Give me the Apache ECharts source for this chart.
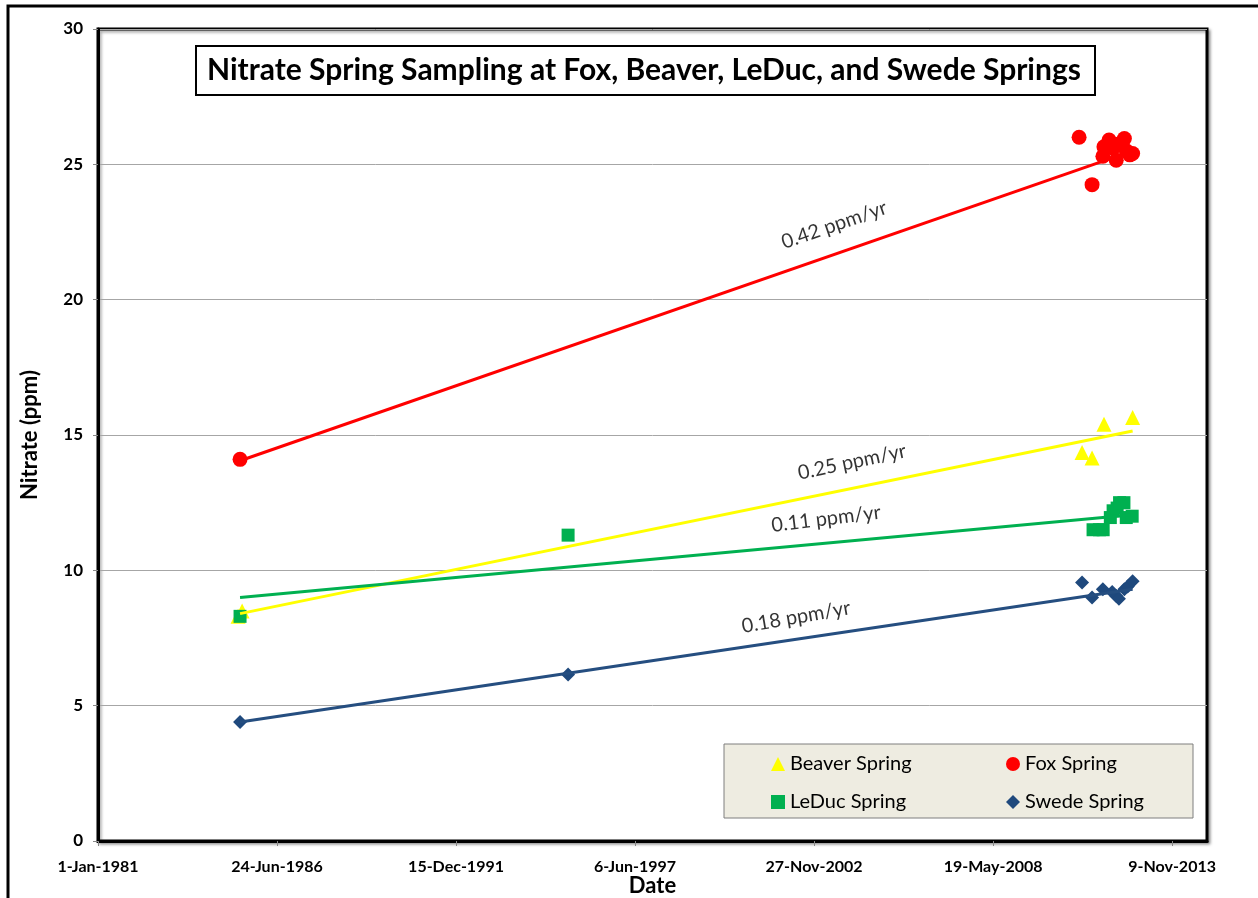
<!DOCTYPE html>
<html>
<head>
<meta charset="utf-8">
<script src="https://cdn.jsdelivr.net/npm/echarts@6/dist/echarts.min.js"></script>
<style>
  html, body { margin: 0; padding: 0; background: #fff; }
  #chart { width: 1258px; height: 898px; }
</style>
</head>
<body>
<div id="chart"></div>
<script>
// sample dates and nitrate values (ppm)
var beaverDates = ['1985-04-15', '1985-05-30', '2011-02-07', '2011-05-30', '2011-10-10', '2012-08-25'];
var beaverVals = [8.3, 8.5, 14.35, 14.15, 15.4, 15.65];

var foxDates = ['1985-05-07', '2011-01-05', '2011-05-30', '2011-09-28', '2011-10-10', '2011-12-06', '2012-01-20',
    '2012-02-24', '2012-03-25', '2012-05-25', '2012-06-15', '2012-07-25', '2012-08-25'];
var foxVals = [14.1, 26.0, 24.25, 25.3, 25.65, 25.9, 25.6, 25.15, 25.75, 25.95, 25.5, 25.35, 25.4];

var leducDates = ['1985-05-07', '1995-05-20', '2011-06-10', '2011-08-20', '2011-10-01', '2011-12-20', '2012-01-20',
    '2012-03-05', '2012-04-01', '2012-05-20', '2012-06-15', '2012-08-20'];
var leducVals = [8.3, 11.3, 11.5, 11.5, 11.5, 11.95, 12.2, 12.3, 12.5, 12.5, 11.95, 12.0];

var swedeDates = ['1985-05-07', '1995-05-20', '2011-02-07', '2011-05-30', '2011-09-28', '2012-01-10', '2012-02-24',
    '2012-03-25', '2012-05-25', '2012-07-01', '2012-08-25'];
var swedeVals = [4.4, 6.15, 9.55, 9.0, 9.3, 9.2, 9.05, 8.95, 9.3, 9.4, 9.6];

// linear trend lines (start / end)
var trendDates = ['1985-05-07', '2012-08-25'];
var foxTrend = [14.05, 25.5];
var beaverTrend = [8.4, 15.15];
var leducTrend = [9.0, 12.05];
var swedeTrend = [4.4, 9.3];

// slope annotations
var slopeTexts = ['0.42 ppm/yr', '0.25 ppm/yr', '0.11 ppm/yr', '0.18 ppm/yr'];
var slopeDates = ['2003-07-10', '2004-01-25', '2003-04-10', '2002-05-10'];
var slopeVals = [22.76, 14.0, 11.9, 8.27];
var slopeAngles = [19, 12, 7, 10];

// x axis: days since 1-Jan-1981, major unit 2000 days
var xTicks = [0, 2000, 4000, 6000, 8000, 10000, 12000];

var BASE = Date.UTC(1981, 0, 1);
var MONTHS = ['Jan', 'Feb', 'Mar', 'Apr', 'May', 'Jun', 'Jul', 'Aug', 'Sep', 'Oct', 'Nov', 'Dec'];
var FONT = 'Lato, "Liberation Sans", sans-serif';

function dayNum(s) {
    var p = s.split('-');
    return (Date.UTC(+p[0], +p[1] - 1, +p[2]) - BASE) / 86400000;
}
function fmtDate(v) {
    var d = new Date(BASE + v * 86400000);
    return d.getUTCDate() + '-' + MONTHS[d.getUTCMonth()] + '-' + d.getUTCFullYear();
}
function pairs(dates, vals) {
    return dates.map(function (d, i) { return [dayNum(d), vals[i]]; });
}

var chart = echarts.init(document.getElementById('chart'));

var option = {
    backgroundColor: '#fff',
    animation: false,
    textStyle: { fontFamily: FONT, color: '#000' },
    title: {
        text: 'Nitrate Spring Sampling at Fox, Beaver, LeDuc, and Swede Springs',
        left: 196,
        top: 46,
        padding: [9, 14, 9, 11],
        borderWidth: 2,
        borderColor: '#000',
        backgroundColor: '#fff',
        textStyle: { fontFamily: FONT, fontSize: 30, fontWeight: 'bold', color: '#000', lineHeight: 31 }
    },
    legend: [
        {
            data: ['Beaver Spring', 'LeDuc Spring'],
            orient: 'vertical',
            left: 766,
            top: 749,
            z: 10,
            itemWidth: 14,
            itemHeight: 14,
            itemGap: 18,
            textStyle: { fontFamily: FONT, fontSize: 20, color: '#000' }
        },
        {
            data: ['Fox Spring', 'Swede Spring'],
            orient: 'vertical',
            left: 1001,
            top: 749,
            z: 10,
            itemWidth: 14,
            itemHeight: 14,
            itemGap: 18,
            textStyle: { fontFamily: FONT, fontSize: 20, color: '#000' }
        }
    ],
    graphic: [
        {   // outer chart frame
            type: 'rect',
            shape: { x: 8, y: 6, width: 1400, height: 1000 },
            style: { fill: 'none', stroke: '#000', lineWidth: 3 },
            z: 0
        },
        {   // legend box
            type: 'rect',
            shape: { x: 724, y: 744, width: 469, height: 74 },
            style: { fill: '#EEECE1', stroke: '#7f7f7f', lineWidth: 1 },
            z: 1
        }
    ],
    grid: {
        left: 98,
        top: 29,
        right: 51,
        bottom: 57,
        outerBoundsMode: 'none',
        show: true,
        backgroundColor: '#fff',
        borderColor: '#000',
        borderWidth: 3,
        shadowColor: 'rgba(0,0,0,0.35)',
        shadowBlur: 3,
        shadowOffsetX: 2,
        shadowOffsetY: 2
    },
    xAxis: {
        type: 'value',
        min: 0,
        max: 12390,
        interval: 2000,
        name: 'Date',
        nameLocation: 'middle',
        nameGap: 34,
        nameMoveOverlap: false,
        nameTextStyle: { fontFamily: FONT, fontSize: 22, fontWeight: 'bold', color: '#000' },
        axisLine: { lineStyle: { color: '#000', width: 3 } },
        axisTick: { show: true, length: 5, customValues: xTicks, lineStyle: { color: '#868686', width: 1 } },
        axisLabel: {
            customValues: xTicks,
            margin: 18,
            fontFamily: FONT, fontSize: 16, fontWeight: 'bold', color: '#000',
            formatter: function (v) { return fmtDate(v); }
        },
        splitLine: { show: false }
    },
    yAxis: {
        type: 'value',
        min: 0,
        max: 30,
        interval: 5,
        name: 'Nitrate (ppm)',
        nameLocation: 'middle',
        nameGap: 57,
        nameMoveOverlap: false,
        nameTextStyle: { fontFamily: FONT, fontSize: 22, fontWeight: 'bold', color: '#000' },
        axisLine: { show: true, lineStyle: { color: '#000', width: 3 } },
        axisTick: { show: true, length: 5, lineStyle: { color: '#868686', width: 1 } },
        axisLabel: { margin: 15, fontFamily: FONT, fontSize: 17, fontWeight: 'bold', color: '#000' },
        splitLine: { show: true, lineStyle: { color: '#A6A6A6', width: 1 } }
    },
    series: [
        {
            name: 'Beaver Spring', type: 'scatter', symbol: 'triangle', symbolSize: 15,
            itemStyle: { color: '#FFFF00', opacity: 1 }, data: pairs(beaverDates, beaverVals), z: 3
        },
        {
            name: 'Fox Spring', type: 'scatter', symbol: 'circle', symbolSize: 15,
            itemStyle: { color: '#FF0000', opacity: 1 }, data: pairs(foxDates, foxVals), z: 3
        },
        {
            name: 'LeDuc Spring', type: 'scatter', symbol: 'rect', symbolSize: 13,
            itemStyle: { color: '#00B050', opacity: 1 }, data: pairs(leducDates, leducVals), z: 3
        },
        {
            name: 'Swede Spring', type: 'scatter', symbol: 'diamond', symbolSize: 14,
            itemStyle: { color: '#1F497D', opacity: 1 }, data: pairs(swedeDates, swedeVals), z: 3
        },
        {
            name: 'Fox trend', type: 'line', symbol: 'none', z: 4,
            lineStyle: { color: '#FF0000', width: 3 }, data: pairs(trendDates, foxTrend)
        },
        {
            name: 'Beaver trend', type: 'line', symbol: 'none', z: 4,
            lineStyle: { color: '#FFFF00', width: 3 }, data: pairs(trendDates, beaverTrend)
        },
        {
            name: 'LeDuc trend', type: 'line', symbol: 'none', z: 4,
            lineStyle: { color: '#00B050', width: 3 }, data: pairs(trendDates, leducTrend)
        },
        {
            name: 'Swede trend', type: 'line', symbol: 'none', z: 4,
            lineStyle: { color: '#254E80', width: 3 }, data: pairs(trendDates, swedeTrend)
        },
        {
            name: 'slopes', type: 'scatter', symbolSize: 0, z: 6, silent: true,
            data: slopeTexts.map(function (t, i) {
                return {
                    value: [dayNum(slopeDates[i]), slopeVals[i]],
                    label: {
                        show: true, position: 'inside', rotate: slopeAngles[i],
                        formatter: t, fontFamily: FONT, fontSize: 20, color: '#000'
                    }
                };
            })
        }
    ]
};

chart.setOption(option);
</script>
</body>
</html>
